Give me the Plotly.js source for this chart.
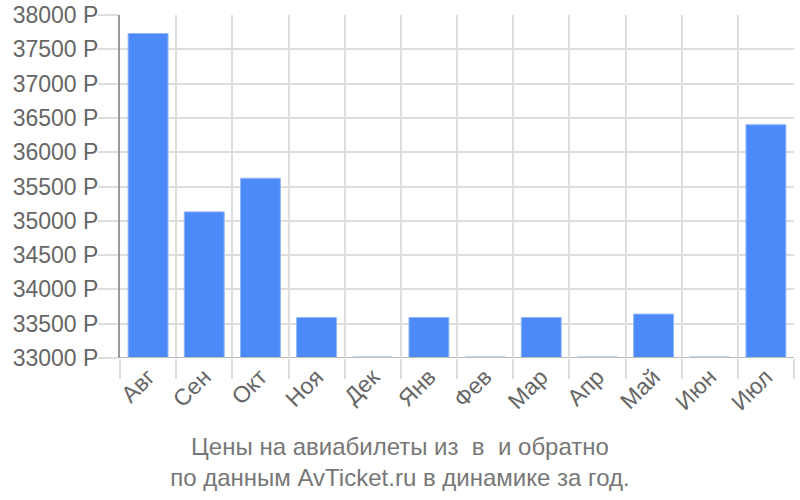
<!DOCTYPE html>
<html>
<head>
<meta charset="utf-8">
<script src="https://cdn.plot.ly/plotly-3.0.1.min.js"></script>
<style>
  html, body { margin: 0; padding: 0; background: #fff; }
  #chart { width: 800px; height: 500px; }
</style>
</head>
<body>
<div id="chart"></div>
<script>
// Цены по месяцам
var months = ['Авг', 'Сен', 'Окт', 'Ноя', 'Дек', 'Янв', 'Фев', 'Мар', 'Апр', 'Май', 'Июн', 'Июл'];
var prices = [37730, 35130, 35620, 33590, 33015, 33590, 33015, 33590, 33015, 33640, 33015, 36400];
var yTicks = [33000, 33500, 34000, 34500, 35000, 35500, 36000, 36500, 37000, 37500, 38000];
var yTickText = yTicks.map(function (v) { return v + ' Р'; });

var trace1 = {
  x: months,
  y: prices,
  type: 'bar',
  hoverinfo: 'none',
  marker: {
    color: '#4d8af9',
    line: { color: '#8fb5fb', width: 1 }
  }
};

var layout = {
  width: 800,
  height: 500,
  showlegend: false,
  bargap: 0.29,
  paper_bgcolor: '#fff',
  plot_bgcolor: '#fff',
  font: { family: 'Liberation Sans, Arial, sans-serif', size: 23, color: '#666' },
  margin: { l: 120, r: 6, t: 15, b: 142 },
  title: {
    text: 'Цены на авиабилеты из  в  и обратно<br>по данным AvTicket.ru в динамике за год.',
    font: { size: 24, color: '#777' },
    xref: 'container',
    yref: 'container',
    x: 0.5,
    y: 0.09,
    xanchor: 'center',
    yanchor: 'middle'
  },
  xaxis: {
    type: 'category',
    tickson: 'boundaries',
    ticks: 'outside',
    ticklen: 20,
    tickcolor: '#dddddd',
    tickwidth: 2,
    tickangle: -45,
    showgrid: true,
    gridcolor: '#dddddd',
    gridwidth: 2,
    showline: false,
    zeroline: false,
    tickfont: { size: 23, color: '#666' }
  },
  yaxis: {
    range: [33000, 38000],
    tickvals: yTicks,
    ticktext: yTickText,
    ticks: 'outside',
    ticklen: 20,
    tickcolor: '#dddddd',
    tickwidth: 2,
    ticklabelstandoff: -5,
    showgrid: true,
    gridcolor: '#dddddd',
    gridwidth: 2,
    showline: true,
    linecolor: '#999999',
    linewidth: 2,
    zeroline: false,
    tickfont: { size: 23, color: '#666' }
  },
  shapes: [{
    type: 'line', xref: 'paper', yref: 'y',
    x0: 0, x1: 1, y0: 33000, y1: 33000,
    line: { color: '#bbbbbb', width: 2 },
    layer: 'above'
  }]
};

var config = { displayModeBar: false, staticPlot: true };

Plotly.newPlot('chart', [trace1], layout, config);
</script>
</body>
</html>
